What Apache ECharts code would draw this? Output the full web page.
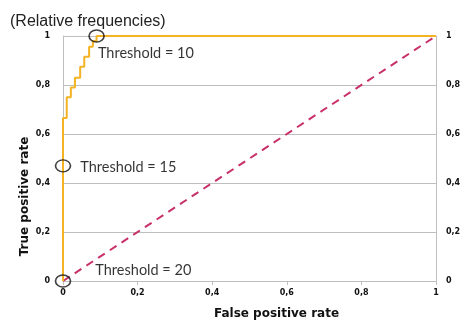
<!DOCTYPE html>
<html>
<head>
<meta charset="utf-8">
<script src="https://cdn.jsdelivr.net/npm/echarts@6/dist/echarts.min.js"></script>
<style>
  html, body { margin: 0; padding: 0; background: #fff; }
  #chart { width: 463px; height: 320px; }
</style>
</head>
<body>
<div id="chart"></div>
<script>
// ROC curve points (false positive rate, true positive rate)
const fpr = [0, 0.01, 0.021, 0.032, 0.046, 0.057, 0.07, 0.08, 0.09, 1]
const tpr = [0, 0.665, 0.75, 0.79, 0.83, 0.875, 0.915, 0.956, 0.98, 1]

// chance diagonal
const diagX = [0, 1]
const diagY = [0, 1]

// marked thresholds
const thrNames = ['Threshold = 10', 'Threshold = 15', 'Threshold = 20']
const thrX = [0.09, 0, 0]
const thrY = [1, 0.47, 0]

const fmt = v => String(v).replace('.', ',')

const colors = {
  roc: '#f4b323',
  diag: '#c8306a',
  grid: '#bfbfbf'
}

const chart = echarts.init(document.getElementById('chart'))

const tickLabel = {
  fontFamily: 'DejaVu Sans',
  fontSize: 8,
  fontWeight: 'bold',
  color: '#111',
  formatter: fmt
}

// label offsets next to each circle
const labelOffsets = [[-12, 17], [4, 1], [19, -11]]

const option = {
  animation: false,
  title: {
    text: '(Relative frequencies)',
    left: 5,
    top: 9,
    textStyle: {
      fontFamily: 'Liberation Sans',
      fontSize: 16,
      fontWeight: 'normal',
      color: '#222'
    }
  },
  grid: {
    left: 63,
    right: 27,
    top: 36,
    bottom: 39,
    outerBoundsMode: 'none'
  },
  xAxis: {
    type: 'value',
    min: 0,
    max: 1,
    interval: 0.2,
    name: 'False positive rate',
    nameLocation: 'middle',
    nameGap: 27,
    nameTextStyle: {
      fontFamily: 'DejaVu Sans',
      fontSize: 12,
      fontWeight: 'bold',
      color: '#111',
      padding: [0, 0, 0, 54]
    },
    axisLine: { show: true, lineStyle: { color: colors.grid, width: 1 } },
    axisTick: { show: true, length: 4, lineStyle: { color: colors.grid } },
    axisLabel: Object.assign({ margin: 8 }, tickLabel),
    splitLine: { show: false }
  },
  yAxis: [
    {
      type: 'value',
      min: 0,
      max: 1,
      interval: 0.2,
      name: 'True positive rate',
      nameLocation: 'middle',
      nameGap: 32,
      nameMoveOverlap: false,
      nameTextStyle: {
        fontFamily: 'DejaVu Sans',
        fontSize: 12,
        fontWeight: 'bold',
        color: '#111',
        padding: [0, 76, 0, 0]
      },
      axisLine: { show: true, lineStyle: { color: colors.grid, width: 1 } },
      axisTick: { show: false },
      axisLabel: Object.assign({ margin: 13 }, tickLabel),
      splitLine: { show: true, lineStyle: { color: colors.grid, width: 1 } }
    },
    {
      type: 'value',
      position: 'right',
      min: 0,
      max: 1,
      interval: 0.2,
      axisLine: { show: true, lineStyle: { color: colors.grid, width: 1 } },
      axisTick: { show: false },
      axisLabel: Object.assign({ margin: 10 }, tickLabel),
      splitLine: { show: false }
    }
  ],
  series: [
    {
      type: 'line',
      data: diagX.map((x, i) => [x, diagY[i]]),
      symbol: 'none',
      lineStyle: { color: colors.diag, width: 2, type: [8, 6] },
      z: 2
    },
    {
      type: 'line',
      step: 'start',
      data: fpr.map((x, i) => [x, tpr[i]]),
      symbol: 'none',
      lineStyle: { color: colors.roc, width: 2 },
      z: 3
    },
    {
      type: 'scatter',
      data: thrX.map((x, i) => ({
        value: [x, thrY[i]],
        name: thrNames[i],
        label: { offset: labelOffsets[i] }
      })),
      symbol: 'circle',
      symbolSize: [15, 12],
      itemStyle: {
        color: 'rgba(0,0,0,0)',
        borderColor: '#111',
        borderWidth: 1.5
      },
      label: {
        show: true,
        position: 'right',
        formatter: p => p.name,
        fontFamily: 'Lato',
        fontSize: 14.5,
        color: '#000'
      },
      z: 4
    }
  ]
}

chart.setOption(option)
</script>
</body>
</html>
